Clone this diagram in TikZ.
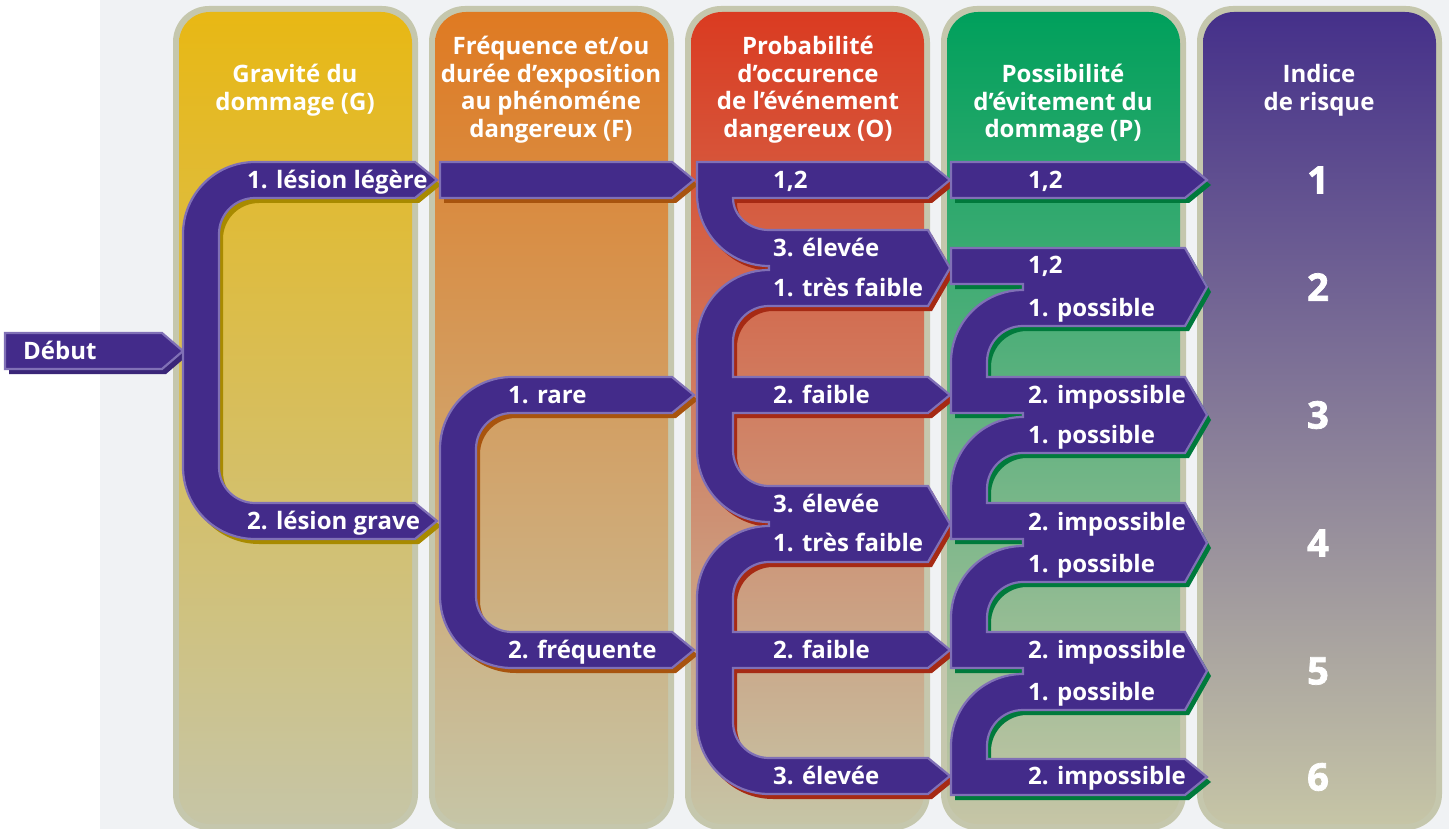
\documentclass[tikz,border=0pt]{standalone}
\usepackage{fontspec}
\setmainfont{Open Sans}
\newfontfamily\digitfont{Open Sans}[BoldFeatures={FakeBold=2}]
\usetikzlibrary{calc}
\definecolor{bgray}{HTML}{F0F2F4}
\definecolor{colborder}{HTML}{C5C7AD}
\definecolor{colbottom}{HTML}{C6C5A6}
\definecolor{gtop}{HTML}{E8B814}
\definecolor{ftop}{HTML}{DF7A22}
\definecolor{otop}{HTML}{DA3B21}
\definecolor{ptop}{HTML}{00A05C}
\definecolor{rtop}{HTML}{45308A}
\definecolor{flowfill}{HTML}{432B8A}
\definecolor{flowline}{HTML}{8070B6}
\definecolor{gshadow}{HTML}{A88A00}
\definecolor{fshadow}{HTML}{A8540E}
\definecolor{oshadow}{HTML}{A62A14}
\definecolor{pshadow}{HTML}{007A3C}
\definecolor{dshadow}{HTML}{3A2678}
\newcommand{\qarc}[3]{.. controls ($(#1)!0.5523!(#2)$) and ($(#3)!0.5523!(#2)$) .. (#3)}
\newcommand{\drawcol}[2]{%
  \fill[colborder, rounded corners=36pt] (#1,6) rectangle ++(245,824);
  \shade[top color=#2, bottom color=colbottom, rounded corners=31pt] ($(#1,6)+(6,6)$) rectangle ++(233,812);}
\tikzset{
  flow/.style={fill=flowfill, draw=flowline, line width=2.2pt, line join=miter},
  shadowof/.style={preaction={fill=#1, draw=none, transform canvas={xshift=4pt, yshift=-5pt}}},
  lab/.style={text=white, font=\bfseries\fontsize{24}{27.5}\selectfont, anchor=west, inner sep=0pt, text height=17pt, text depth=0pt},
  ttl/.style={text=white, font=\bfseries\fontsize{24}{27.5}\selectfont, anchor=base, inner sep=0pt},
  risk/.style={text=white, font=\digitfont\bfseries\fontsize{38}{40}\selectfont, anchor=center, inner sep=0pt}
}
\begin{document}
\begin{tikzpicture}[x=1pt, y=-1pt]
\useasboundingbox (0,0) rectangle (1449,829);
\fill[white] (0,0) rectangle (100,829);
\fill[bgray] (100,0) rectangle (1449,829);
% columns
\drawcol{173}{gtop}
\drawcol{429}{ftop}
\drawcol{685}{otop}
\drawcol{941}{ptop}
\drawcol{1197}{rtop}
% titles
\node[ttl] (tG) at (295,83) {\begin{tabular}[t]{@{}c@{}}Gravité du\\dommage (G)\end{tabular}};
\node[ttl] (tF) at (551,55) {\begin{tabular}[t]{@{}c@{}}Fréquence et/ou\\durée d’exposition\\au phénoméne\\dangereux (F)\end{tabular}};
\node[ttl] (tO) at (808,55) {\begin{tabular}[t]{@{}c@{}}Probabilité\\d’occurence\\de l’événement\\dangereux (O)\end{tabular}};
\node[ttl] (tP) at (1063,83) {\begin{tabular}[t]{@{}c@{}}Possibilité\\d’évitement du\\dommage (P)\end{tabular}};
\node[ttl] (tR) at (1319,83) {\begin{tabular}[t]{@{}c@{}}Indice\\de risque\end{tabular}};
% Debut
\path[flow, shadowof=dshadow] (5,333) -- (162,333) -- (183,351) -- (162,369) -- (5,369) -- cycle;
% G bracket
\path[flow, shadowof=gshadow] (255,162) -- (415,162) -- (437,180) -- (415,198) -- (255,198) \qarc{255,198}{219,198}{219,234} -- (219,467) \qarc{219,467}{219,503}{255,503} -- (415,503) -- (437,521) -- (415,539) -- (255,539) \qarc{255,539}{183,539}{183,467} -- (183,234) \qarc{183,234}{183,162}{255,162} -- cycle;
% F
\path[flow, shadowof=fshadow] (440,162) -- (672,162) -- (694,180) -- (672,198) -- (440,198) -- cycle;
\path[flow, shadowof=fshadow] (512,377) -- (672,377) -- (694,395) -- (672,413) -- (512,413) \qarc{512,413}{476,413}{476,449} -- (476,596) \qarc{476,596}{476,632}{512,632} -- (672,632) -- (694,650) -- (672,668) -- (512,668) \qarc{512,668}{440,668}{440,596} -- (440,449) \qarc{440,449}{440,377}{512,377} -- cycle;
% O
\path[flow, shadowof=oshadow] (697,162) -- (928,162) -- (950,180) -- (928,198) -- (733,198) \qarc{733,198}{733,230}{769,230} -- (928,230) -- (950,268) -- (928,306) -- (769,306) \qarc{769,306}{733,306}{733,342} -- (733,377) -- (928,377) -- (950,395) -- (928,413) -- (733,413) -- (733,450) \qarc{733,450}{733,486}{769,486} -- (928,486) -- (950,524) -- (928,562) -- (769,562) \qarc{769,562}{733,562}{733,598} -- (733,632) -- (928,632) -- (950,650) -- (928,668) -- (733,668) -- (733,722) \qarc{733,722}{733,758}{769,758} -- (928,758) -- (950,776) -- (928,794) -- (769,794) \qarc{769,794}{697,794}{697,722} -- (697,598) \qarc{697,598}{697,526}{769,526} -- (769,522) \qarc{769,522}{697,522}{697,450} -- (697,342) \qarc{697,342}{697,270}{769,270} -- (769,266) \qarc{769,266}{697,266}{697,194} -- cycle;
% P
\path[flow, shadowof=pshadow] (951,162) -- (1185,162) -- (1207,180) -- (1185,198) -- (951,198) -- cycle;
\path[flow, shadowof=pshadow] (951,248) -- (1185,248) -- (1207,287) -- (1185,326) -- (1023,326) \qarc{1023,326}{987,326}{987,362} -- (987,377) -- (1185,377) -- (1207,415) -- (1185,453) -- (1023,453) \qarc{1023,453}{987,453}{987,489} -- (987,503) -- (1185,503) -- (1207,543) -- (1185,582) -- (1023,582) \qarc{1023,582}{987,582}{987,618} -- (987,632) -- (1185,632) -- (1207,671) -- (1185,710) -- (1023,710) \qarc{1023,710}{987,710}{987,746} -- (987,759) -- (1185,759) -- (1207,777) -- (1185,795) -- (951,795) -- (951,746) \qarc{951,746}{951,674}{1023,674} -- (1023,668) -- (951,668) -- (951,618) \qarc{951,618}{951,546}{1023,546} -- (1023,539) -- (951,539) -- (951,489) \qarc{951,489}{951,417}{1023,417} -- (1023,413) -- (951,413) -- (951,362) \qarc{951,362}{951,290}{1023,290} -- (1023,284) -- (951,284) -- cycle;
% labels
\node[lab] (lD) at (23,351) {Début};
\node[lab] (lG1) at (247,180) {1. lésion légère};
\node[lab] (lG2) at (247,521) {2. lésion grave};
\node[lab] (lF1) at (508,395) {1. rare};
\node[lab] (lF2) at (508,650) {2. fréquente};
\node[lab] (lO1) at (773,180) {1,2};
\node[lab] (lO2) at (773,248) {3. élevée};
\node[lab] (lO3) at (773,288) {1. très faible};
\node[lab] (lO4) at (773,395) {2. faible};
\node[lab] (lO5) at (773,504) {3. élevée};
\node[lab] (lO6) at (773,543) {1. très faible};
\node[lab] (lO7) at (773,650) {2. faible};
\node[lab] (lO8) at (773,776) {3. élevée};
\node[lab] (lP1) at (1028,180) {1,2};
\node[lab] (lP2) at (1028,265) {1,2};
\node[lab] (lP3) at (1028,308) {1. possible};
\node[lab] (lP4) at (1028,395) {2. impossible};
\node[lab] (lP5) at (1028,435) {1. possible};
\node[lab] (lP6) at (1028,522) {2. impossible};
\node[lab] (lP7) at (1028,564) {1. possible};
\node[lab] (lP8) at (1028,650) {2. impossible};
\node[lab] (lP9) at (1028,692) {1. possible};
\node[lab] (lP10) at (1028,776) {2. impossible};
% risk indices
\node[risk] (r1) at (1318,180) {1};
\node[risk] (r2) at (1318,287) {2};
\node[risk] (r3) at (1318,415) {3};
\node[risk] (r4) at (1318,543) {4};
\node[risk] (r5) at (1318,671) {5};
\node[risk] (r6) at (1318,777) {6};
\end{tikzpicture}
\end{document}
